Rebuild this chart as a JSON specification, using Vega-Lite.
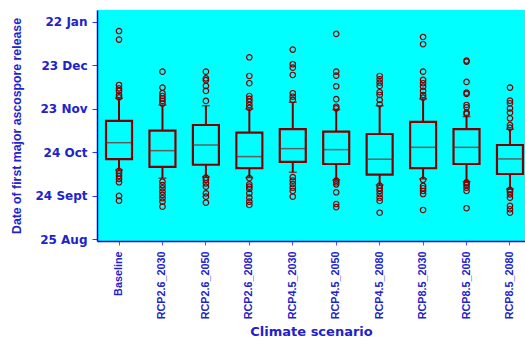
{
  "$schema": "https://vega.github.io/schema/vega-lite/v6.json",
  "autosize": "none",
  "width": 428,
  "height": 231,
  "padding": {"left": 97, "top": 10, "right": 0, "bottom": 99},
  "background": "white",
  "view": {"fill": "#00ffff", "stroke": null},
  "datasets": {
    "boxes": [
      {"scenario": "Baseline", "lower": 47.8, "q1": 55.2, "median": 66.6, "q3": 81.6, "upper": 97.2},
      {"scenario": "RCP2.6_2030", "lower": 42.1, "q1": 49.9, "median": 61.1, "q3": 74.9, "upper": 92.6},
      {"scenario": "RCP2.6_2050", "lower": 43.0, "q1": 51.4, "median": 65.0, "q3": 78.8, "upper": 92.1},
      {"scenario": "RCP2.6_2080", "lower": 42.5, "q1": 49.0, "median": 57.0, "q3": 73.5, "upper": 89.9},
      {"scenario": "RCP4.5_2030", "lower": 46.2, "q1": 53.3, "median": 62.5, "q3": 75.9, "upper": 94.5},
      {"scenario": "RCP4.5_2050", "lower": 40.9, "q1": 51.9, "median": 61.8, "q3": 74.2, "upper": 89.4},
      {"scenario": "RCP4.5_2080", "lower": 37.4, "q1": 44.6, "median": 55.2, "q3": 72.6, "upper": 92.1},
      {"scenario": "RCP8.5_2030", "lower": 41.6, "q1": 49.0, "median": 63.4, "q3": 80.9, "upper": 96.8},
      {"scenario": "RCP8.5_2050", "lower": 39.7, "q1": 51.9, "median": 63.4, "q3": 75.9, "upper": 84.6},
      {"scenario": "RCP8.5_2080", "lower": 34.7, "q1": 45.0, "median": 55.4, "q3": 65.0, "upper": 75.9}
    ],
    "outliers": [
      {"scenario": "Baseline", "value": 143.6}, {"scenario": "Baseline", "value": 137.7},
      {"scenario": "Baseline", "value": 106.4}, {"scenario": "Baseline", "value": 104.1},
      {"scenario": "Baseline", "value": 102.3}, {"scenario": "Baseline", "value": 99.5},
      {"scenario": "Baseline", "value": 97.9},
      {"scenario": "Baseline", "value": 47.1}, {"scenario": "Baseline", "value": 45.5},
      {"scenario": "Baseline", "value": 43.7}, {"scenario": "Baseline", "value": 41.6},
      {"scenario": "Baseline", "value": 39.3}, {"scenario": "Baseline", "value": 29.9},
      {"scenario": "Baseline", "value": 26.6},
      {"scenario": "RCP2.6_2030", "value": 115.6}, {"scenario": "RCP2.6_2030", "value": 104.6},
      {"scenario": "RCP2.6_2030", "value": 100.7}, {"scenario": "RCP2.6_2030", "value": 98.8},
      {"scenario": "RCP2.6_2030", "value": 97.2}, {"scenario": "RCP2.6_2030", "value": 95.4},
      {"scenario": "RCP2.6_2030", "value": 93.6},
      {"scenario": "RCP2.6_2030", "value": 39.7}, {"scenario": "RCP2.6_2030", "value": 37.4},
      {"scenario": "RCP2.6_2030", "value": 35.2}, {"scenario": "RCP2.6_2030", "value": 32.8},
      {"scenario": "RCP2.6_2030", "value": 30.6}, {"scenario": "RCP2.6_2030", "value": 28.3},
      {"scenario": "RCP2.6_2030", "value": 25.9}, {"scenario": "RCP2.6_2030", "value": 22.5},
      {"scenario": "RCP2.6_2050", "value": 115.6}, {"scenario": "RCP2.6_2050", "value": 111.0},
      {"scenario": "RCP2.6_2050", "value": 109.7}, {"scenario": "RCP2.6_2050", "value": 105.7},
      {"scenario": "RCP2.6_2050", "value": 102.3}, {"scenario": "RCP2.6_2050", "value": 95.4},
      {"scenario": "RCP2.6_2050", "value": 42.5}, {"scenario": "RCP2.6_2050", "value": 40.9},
      {"scenario": "RCP2.6_2050", "value": 38.6}, {"scenario": "RCP2.6_2050", "value": 36.3},
      {"scenario": "RCP2.6_2050", "value": 31.7}, {"scenario": "RCP2.6_2050", "value": 29.4},
      {"scenario": "RCP2.6_2050", "value": 25.2},
      {"scenario": "RCP2.6_2080", "value": 125.5}, {"scenario": "RCP2.6_2080", "value": 112.6},
      {"scenario": "RCP2.6_2080", "value": 107.6}, {"scenario": "RCP2.6_2080", "value": 98.8},
      {"scenario": "RCP2.6_2080", "value": 96.8}, {"scenario": "RCP2.6_2080", "value": 94.9},
      {"scenario": "RCP2.6_2080", "value": 92.6}, {"scenario": "RCP2.6_2080", "value": 90.6},
      {"scenario": "RCP2.6_2080", "value": 42.1}, {"scenario": "RCP2.6_2080", "value": 37.9},
      {"scenario": "RCP2.6_2080", "value": 36.3}, {"scenario": "RCP2.6_2080", "value": 34.7},
      {"scenario": "RCP2.6_2080", "value": 31.7}, {"scenario": "RCP2.6_2080", "value": 28.7},
      {"scenario": "RCP2.6_2080", "value": 25.9}, {"scenario": "RCP2.6_2080", "value": 23.7},
      {"scenario": "RCP4.5_2030", "value": 130.8}, {"scenario": "RCP4.5_2030", "value": 120.7},
      {"scenario": "RCP4.5_2030", "value": 118.3}, {"scenario": "RCP4.5_2030", "value": 113.3},
      {"scenario": "RCP4.5_2030", "value": 100.7}, {"scenario": "RCP4.5_2030", "value": 98.3},
      {"scenario": "RCP4.5_2030", "value": 96.1},
      {"scenario": "RCP4.5_2030", "value": 42.8}, {"scenario": "RCP4.5_2030", "value": 40.4},
      {"scenario": "RCP4.5_2030", "value": 38.1}, {"scenario": "RCP4.5_2030", "value": 35.6},
      {"scenario": "RCP4.5_2030", "value": 33.3}, {"scenario": "RCP4.5_2030", "value": 29.4},
      {"scenario": "RCP4.5_2050", "value": 141.6}, {"scenario": "RCP4.5_2050", "value": 115.6},
      {"scenario": "RCP4.5_2050", "value": 112.8}, {"scenario": "RCP4.5_2050", "value": 105.5},
      {"scenario": "RCP4.5_2050", "value": 96.6}, {"scenario": "RCP4.5_2050", "value": 91.4},
      {"scenario": "RCP4.5_2050", "value": 90.3},
      {"scenario": "RCP4.5_2050", "value": 40.4}, {"scenario": "RCP4.5_2050", "value": 39.3},
      {"scenario": "RCP4.5_2050", "value": 37.9}, {"scenario": "RCP4.5_2050", "value": 32.4},
      {"scenario": "RCP4.5_2050", "value": 24.3}, {"scenario": "RCP4.5_2050", "value": 22.1},
      {"scenario": "RCP4.5_2080", "value": 112.6}, {"scenario": "RCP4.5_2080", "value": 110.3},
      {"scenario": "RCP4.5_2080", "value": 108.0}, {"scenario": "RCP4.5_2080", "value": 105.7},
      {"scenario": "RCP4.5_2080", "value": 101.4}, {"scenario": "RCP4.5_2080", "value": 99.5},
      {"scenario": "RCP4.5_2080", "value": 96.1}, {"scenario": "RCP4.5_2080", "value": 93.1},
      {"scenario": "RCP4.5_2080", "value": 37.0}, {"scenario": "RCP4.5_2080", "value": 35.2},
      {"scenario": "RCP4.5_2080", "value": 33.3}, {"scenario": "RCP4.5_2080", "value": 31.2},
      {"scenario": "RCP4.5_2080", "value": 28.7}, {"scenario": "RCP4.5_2080", "value": 26.4},
      {"scenario": "RCP4.5_2080", "value": 18.3},
      {"scenario": "RCP8.5_2030", "value": 139.5}, {"scenario": "RCP8.5_2030", "value": 134.5},
      {"scenario": "RCP8.5_2030", "value": 115.6}, {"scenario": "RCP8.5_2030", "value": 109.9},
      {"scenario": "RCP8.5_2030", "value": 107.6}, {"scenario": "RCP8.5_2030", "value": 105.2},
      {"scenario": "RCP8.5_2030", "value": 102.3}, {"scenario": "RCP8.5_2030", "value": 99.5},
      {"scenario": "RCP8.5_2030", "value": 97.7},
      {"scenario": "RCP8.5_2030", "value": 41.0}, {"scenario": "RCP8.5_2030", "value": 36.8},
      {"scenario": "RCP8.5_2030", "value": 35.2}, {"scenario": "RCP8.5_2030", "value": 33.3},
      {"scenario": "RCP8.5_2030", "value": 31.2}, {"scenario": "RCP8.5_2030", "value": 20.2},
      {"scenario": "RCP8.5_2050", "value": 123.2}, {"scenario": "RCP8.5_2050", "value": 122.5},
      {"scenario": "RCP8.5_2050", "value": 108.5}, {"scenario": "RCP8.5_2050", "value": 101.1},
      {"scenario": "RCP8.5_2050", "value": 100.2}, {"scenario": "RCP8.5_2050", "value": 92.6},
      {"scenario": "RCP8.5_2050", "value": 91.0}, {"scenario": "RCP8.5_2050", "value": 87.3},
      {"scenario": "RCP8.5_2050", "value": 86.4},
      {"scenario": "RCP8.5_2050", "value": 39.2}, {"scenario": "RCP8.5_2050", "value": 38.6},
      {"scenario": "RCP8.5_2050", "value": 37.4}, {"scenario": "RCP8.5_2050", "value": 35.6},
      {"scenario": "RCP8.5_2050", "value": 33.3}, {"scenario": "RCP8.5_2050", "value": 21.4},
      {"scenario": "RCP8.5_2080", "value": 104.6}, {"scenario": "RCP8.5_2080", "value": 95.6},
      {"scenario": "RCP8.5_2080", "value": 93.8}, {"scenario": "RCP8.5_2080", "value": 90.3},
      {"scenario": "RCP8.5_2080", "value": 87.3}, {"scenario": "RCP8.5_2080", "value": 83.4},
      {"scenario": "RCP8.5_2080", "value": 78.8}, {"scenario": "RCP8.5_2080", "value": 77.0},
      {"scenario": "RCP8.5_2080", "value": 34.0}, {"scenario": "RCP8.5_2080", "value": 32.8},
      {"scenario": "RCP8.5_2080", "value": 31.0}, {"scenario": "RCP8.5_2080", "value": 28.7},
      {"scenario": "RCP8.5_2080", "value": 23.0}, {"scenario": "RCP8.5_2080", "value": 20.7},
      {"scenario": "RCP8.5_2080", "value": 18.3}
    ]
  },
  "encoding": {
    "x": {
      "field": "scenario",
      "type": "nominal",
      "sort": null,
      "scale": {"paddingInner": 0.5, "paddingOuter": 0.1765, "align": 0.728, "round": false},
      "axis": {
        "title": "Climate scenario",
        "titleFont": "DejaVu Sans",
        "titleFontSize": 13,
        "titleFontWeight": "bold",
        "titleColor": "#2222cc",
        "titlePadding": 7,
        "labelAngle": -90,
        "labelAlign": "right",
        "labelBaseline": "middle",
        "labelFont": "Liberation Sans",
        "labelFontSize": 10.8,
        "labelFontWeight": "bold",
        "labelColor": "#2222cc",
        "labelPadding": 6,
        "tickSize": 4,
        "tickColor": "#5555ff",
        "domainColor": "#0000ff",
        "domainWidth": 1.5
      }
    }
  },
  "layer": [
    {
      "data": {"name": "boxes"},
      "mark": {"type": "rule", "color": "#7a0000", "strokeWidth": 2},
      "encoding": {
        "y": {
          "field": "lower",
          "type": "quantitative",
          "scale": {"domain": [-1.2, 158.1], "nice": false, "zero": false},
          "axis": {
            "title": "Date of first major ascospore release",
            "titleFont": "Liberation Sans",
            "titleFontSize": 12.3,
            "titleFontWeight": "bold",
            "titleColor": "#2222cc",
            "titlePadding": 12,
            "values": [0, 30, 60, 90, 120, 150],
            "labelExpr": "['25 Aug','24 Sept','24 Oct','23 Nov','23 Dec','22 Jan'][round(datum.value / 30)]",
            "labelFont": "DejaVu Sans",
            "labelFontSize": 12,
            "labelFontWeight": "bold",
            "labelColor": "#2222cc",
            "labelPadding": 5,
            "tickSize": 5,
            "tickColor": "#3333ff",
            "domainColor": "#0000ff",
            "domainWidth": 1.5,
            "grid": false
          }
        },
        "y2": {"field": "upper"}
      }
    },
    {
      "data": {"name": "boxes"},
      "mark": {"type": "tick", "color": "#7a0000", "thickness": 1.5, "size": 8},
      "encoding": {"y": {"field": "lower", "type": "quantitative"}}
    },
    {
      "data": {"name": "boxes"},
      "mark": {"type": "tick", "color": "#7a0000", "thickness": 1.5, "size": 8},
      "encoding": {"y": {"field": "upper", "type": "quantitative"}}
    },
    {
      "data": {"name": "boxes"},
      "mark": {"type": "bar", "width": 26, "fill": "#00ffff", "stroke": "#800000", "strokeWidth": 2.2},
      "encoding": {
        "y": {"field": "q1", "type": "quantitative"},
        "y2": {"field": "q3"}
      }
    },
    {
      "data": {"name": "boxes"},
      "mark": {"type": "tick", "color": "#8a1a1a", "thickness": 1.5, "size": 26},
      "encoding": {"y": {"field": "median", "type": "quantitative"}}
    },
    {
      "data": {"name": "outliers"},
      "mark": {"type": "point", "shape": "circle", "filled": false, "color": "#800000", "size": 30, "strokeWidth": 1.2, "opacity": 1},
      "encoding": {"y": {"field": "value", "type": "quantitative"}}
    }
  ]
}
